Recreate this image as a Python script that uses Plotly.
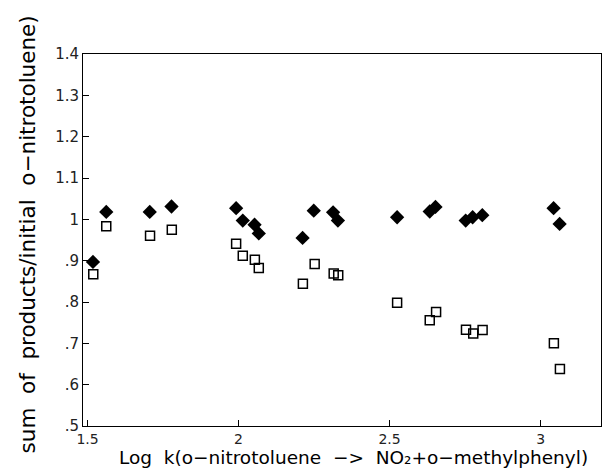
import plotly.graph_objects as go

# Log k values (x) and normalized sum of products (y)
logk_sum = [1.518, 1.562, 1.706, 1.778, 1.992, 2.014, 2.053, 2.067, 2.212, 2.249,
            2.313, 2.329, 2.525, 2.633, 2.652, 2.752, 2.775, 2.807, 3.043, 3.063]
sum_filled = [0.897, 1.018, 1.018, 1.031, 1.027, 0.997, 0.987, 0.966, 0.955, 1.021,
              1.017, 0.997, 1.005, 1.019, 1.030, 0.997, 1.005, 1.010, 1.027, 0.989]

logk_open = [1.519, 1.562, 1.707, 1.779, 1.992, 2.014, 2.054, 2.067, 2.213, 2.252,
             2.315, 2.330, 2.525, 2.633, 2.654, 2.753, 2.777, 2.808, 3.044, 3.064]
sum_open = [0.867, 0.983, 0.960, 0.975, 0.941, 0.912, 0.902, 0.882, 0.844, 0.892,
            0.869, 0.865, 0.798, 0.756, 0.776, 0.733, 0.724, 0.732, 0.700, 0.638]

x_ticks = [1.5, 2, 2.5, 3]
x_ticktext = ["1.5", "2", "2.5", "3"]
y_ticks = [0.5, 0.6, 0.7, 0.8, 0.9, 1.0, 1.1, 1.2, 1.3, 1.4]
y_ticktext = [".5", ".6", ".7", ".8", ".9", "1", "1.1", "1.2", "1.3", "1.4"]

FONT = "DejaVu Sans"

fig = go.Figure()
fig.add_trace(go.Scatter(
    x=logk_sum, y=sum_filled, mode="markers",
    marker=dict(symbol="diamond", size=11, color="black"),
    showlegend=False))
fig.add_trace(go.Scatter(
    x=logk_open, y=sum_open, mode="markers",
    marker=dict(symbol="square-open", size=9, color="black", line=dict(width=1.5)),
    showlegend=False))

fig.update_layout(
    width=615, height=472,
    margin=dict(l=75, r=22, t=46, b=54),
    paper_bgcolor="white", plot_bgcolor="white",
    font=dict(family=FONT, color="black"),
    xaxis=dict(
        range=[1.485, 3.2], tickvals=x_ticks, ticktext=x_ticktext,
        ticks="inside", ticklen=6, tickcolor="black",
        showline=True, linecolor="black", linewidth=1, mirror=True,
        showgrid=False, zeroline=False,
        tickfont=dict(size=14, color="#222"),
        tickangle=0,
    ),
    yaxis=dict(
        range=[0.5, 1.4], tickvals=y_ticks, ticktext=y_ticktext,
        ticks="inside", ticklen=6, tickcolor="black",
        showline=True, linecolor="black", linewidth=1, mirror=True,
        showgrid=False, zeroline=False,
        tickfont=dict(size=15, color="#222"),
    ),
    annotations=[
        dict(text="Log  k(o\u2212nitrotoluene  \u2212>  NO\u2082+o\u2212methylphenyl)",
             xref="paper", yref="paper", x=0.522, y=0.0, yshift=-31,
             xanchor="center", yanchor="middle", showarrow=False, borderpad=0,
             font=dict(size=18.5, color="black")),
        dict(text="sum  of  products/initial  o\u2212nitrotoluene)",
             xref="paper", yref="paper", x=0, xshift=-56, y=0.515,
             xanchor="center", yanchor="middle", textangle=-90, showarrow=False,
             font=dict(size=21.5, color="black")),
    ],
)

fig.write_html("out.html")
